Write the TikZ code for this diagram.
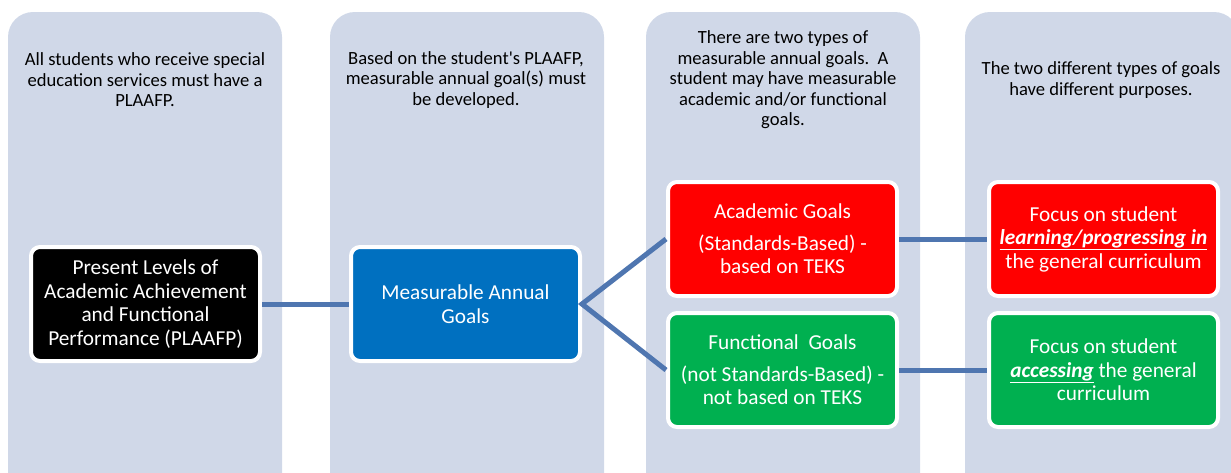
\documentclass[tikz,border=0pt]{standalone}
\usepackage{fontspec}
\setmainfont{Carlito}
\usetikzlibrary{positioning}

\definecolor{panelBg}{RGB}{208,216,232}
\definecolor{goalRed}{RGB}{255,0,0}
\definecolor{goalGreen}{RGB}{0,176,80}
\definecolor{goalBlue}{RGB}{0,112,192}
\definecolor{linkBlue}{RGB}{79,118,176}

\begin{document}
\begin{tikzpicture}[x=1pt, y=-1pt,
  panel/.style={fill=panelBg, rounded corners=25pt},
  panelText/.style={align=center, text=black, font=\fontsize{18.6}{20.5}\selectfont},
  goalBox/.style={draw=white, line width=4pt, rounded corners=9pt, minimum width=229pt,
    minimum height=114pt, inner sep=0pt, align=center, text=white,
    font=\fontsize{21.3}{23.5}\selectfont},
  link/.style={draw=linkBlue, line width=5pt}]
\useasboundingbox (0,0) rectangle (1231,472);
\clip (0,0) rectangle (1231,472);
% Background panels
\foreach \px in {8,330,646,965}
  \fill[panel] (\px,12) rectangle (\px+274,520);
% Panel headings
\node[panelText] (textPlaafp) at (145,80) {All students who receive special\\education services must have a\\PLAAFP.};
\node[panelText] (textAnnual) at (466,80) {Based on the student\textquotesingle s PLAAFP,\\measurable annual goal(s) must\\be developed.};
\node[panelText] (textTypes) at (783,80) {There are two types of\\measurable annual goals.\ \ A\\student may have measurable\\academic and/or functional\\goals.};
\node[panelText] (textPurpose) at (1101,80) {The two different types of goals\\have different purposes.};
% Boxes
\node[goalBox, fill=black] (plaafp) at (145.5,304) {Present Levels of\\Academic Achievement\\and Functional\\Performance (PLAAFP)};
\node[goalBox, fill=goalBlue, right=87pt of plaafp] (annual) {Measurable Annual\\Goals};
\node[goalBox, fill=goalRed] (academic) at (782.5,239) {Academic Goals\\[8pt](Standards-Based) -\\based on TEKS};
\node[goalBox, fill=goalGreen, below=13pt of academic] (functional) {Functional\ \ Goals\\[8pt](not Standards-Based) -\\not based on TEKS};
\node[goalBox, fill=goalRed, right=88pt of academic] (focusLearn) {Focus on student\\\underline{\textbf{\textit{learning/progressing in}}}\\the general curriculum};
\node[goalBox, fill=goalGreen, right=88pt of functional] (focusAccess) {Focus on student\\\underline{\textbf{\textit{accessing}}} the general\\curriculum};
% Connectors
\draw[link] (plaafp) -- (annual);
\draw[link] (academic.west) -- (annual.east) -- (functional.west);
\draw[link] (academic) -- (focusLearn);
\draw[link] (functional) -- (focusAccess);
\end{tikzpicture}
\end{document}
